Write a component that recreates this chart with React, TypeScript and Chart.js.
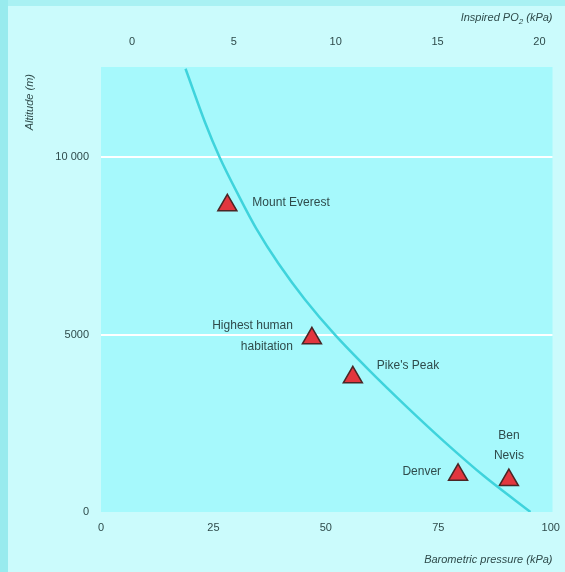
import React, { useEffect, useRef } from "react";
import { Chart, registerables } from "chart.js";

Chart.register(...registerables);

// Curve: barometric pressure (kPa) read at each altitude (m)
const curveAltitude = [0, 1000, 2000, 3000, 4000, 5000, 6000, 7000, 8000, 9000, 10000, 11000, 12500];
const curvePressure = [95.5, 85.3, 76.2, 67.7, 59.6, 52.0, 45.3, 39.5, 34.5, 30.3, 26.4, 23.1, 18.8];

// Sites
const siteNames = ["Mount Everest", "Highest human habitation", "Pike's Peak", "Denver", "Ben Nevis"];
const sitePressure = [28.1, 46.9, 56.0, 79.4, 90.7];
const siteAltitude = [8650, 4900, 3800, 1050, 900];

// Tick labels
const pressureTicks = [0, 25, 50, 75, 100];
const inspiredTicks = [0, 5, 10, 15, 20];
const altitudeTicks = [0, 5000, 10000];

// Label layout (offsets relative to each marker, in px)
const siteLabelLayout = [
  { lines: ["Mount Everest"], align: "left", dx: 25, dy: [-3] },
  { lines: ["Highest human", "habitation"], align: "right", dx: -19, dy: [-13, 8] },
  { lines: ["Pike's Peak"], align: "left", dx: 24, dy: [-12] },
  { lines: ["Denver"], align: "right", dx: -17, dy: [-3] },
  { lines: ["Ben", "Nevis"], align: "center", dx: 0, dy: [-44, -24] },
];

const FONT = "'Liberation Sans', Arial, sans-serif";
const TEXT = "#2f4b4b";

function formatAlt(v: number) {
  if (v >= 10000) return String(v).replace(/(\d)(?=(\d{3})+$)/g, "$1 ");
  return String(v);
}

export default function App() {
  const ref = useRef<HTMLCanvasElement>(null);
  useEffect(() => {
    if (!ref.current) return;
    const bgPlugin = {
      id: "bg",
      beforeDraw(chart: any) {
        const { ctx, chartArea: a, width, height } = chart;
        ctx.save();
        ctx.fillStyle = "#cbfbfc";
        ctx.fillRect(0, 0, width, height);
        ctx.fillStyle = "#98ebee";
        ctx.fillRect(0, 0, 8, height);
        ctx.fillStyle = "#a9f1f3";
        ctx.fillRect(8, 0, width - 8, 6);
        ctx.fillStyle = "#a6f9fc";
        ctx.fillRect(a.left, a.top, a.right - a.left, a.bottom - a.top);
        ctx.restore();
      },
    };
    const textPlugin = {
      id: "texts",
      afterDraw(chart: any) {
        const { ctx, chartArea: a } = chart;
        const xs = chart.scales.x;
        const ys = chart.scales.y;
        ctx.save();
        ctx.fillStyle = TEXT;
        ctx.textBaseline = "middle";
        ctx.font = `12px ${FONT}`;
        siteNames.forEach((_, i) => {
          const px = xs.getPixelForValue(sitePressure[i]);
          const py = ys.getPixelForValue(siteAltitude[i]);
          const L = siteLabelLayout[i];
          ctx.textAlign = L.align;
          L.lines.forEach((line, j) => ctx.fillText(line, px + L.dx, py + L.dy[j]));
        });
        // Axis titles
        ctx.font = `italic 11px ${FONT}`;
        ctx.textAlign = "right";
        ctx.fillText("Barometric pressure (kPa)", a.right, 560);
        // Top title with subscript
        const right = a.right;
        const y0 = 18;
        const p1 = "Inspired PO";
        const sub = "2";
        const p2 = " (kPa)";
        ctx.font = `italic 11px ${FONT}`;
        const w1 = ctx.measureText(p1).width;
        const w3 = ctx.measureText(p2).width;
        ctx.font = `italic 8px ${FONT}`;
        const w2 = ctx.measureText(sub).width;
        let x = right - (w1 + w2 + w3);
        ctx.textAlign = "left";
        ctx.font = `italic 11px ${FONT}`;
        ctx.fillText(p1, x, y0);
        x += w1;
        ctx.font = `italic 8px ${FONT}`;
        ctx.fillText(sub, x, y0 + 4);
        x += w2;
        ctx.font = `italic 11px ${FONT}`;
        ctx.fillText(p2, x, y0);
        // Y title
        ctx.save();
        ctx.translate(30, 74);
        ctx.rotate(-Math.PI / 2);
        ctx.textAlign = "right";
        ctx.fillText("Altitude (m)", 0, 0);
        ctx.restore();
        ctx.restore();
      },
    };
    const tickFont = { family: FONT, size: 11 };
    const chart = new Chart(ref.current, {
      type: "scatter",
      data: {
        datasets: [
          {
            label: "curve",
            data: curveAltitude.map((h, i) => ({ x: curvePressure[i], y: h })),
            showLine: true,
            borderColor: "#3fd3dc",
            borderWidth: 2.5,
            pointRadius: 0,
            tension: 0.3,
            xAxisID: "x",
            yAxisID: "y",
          },
          {
            label: "sites",
            data: sitePressure.map((p, i) => ({ x: p, y: siteAltitude[i] })),
            pointStyle: "triangle",
            pointRadius: 11,
            backgroundColor: "#e2363e",
            borderColor: "#4a2626",
            borderWidth: 1.5,
            xAxisID: "x",
            yAxisID: "y",
          },
        ],
      },
      options: {
        animation: false,
        responsive: false,
        layout: { padding: { left: 0, right: 12, top: 0, bottom: 0 } },
        plugins: { legend: { display: false }, tooltip: { enabled: false } },
        scales: {
          x: {
            type: "linear",
            position: "bottom",
            min: 0,
            max: 100.4,
            afterBuildTicks: (s: any) => { s.ticks = pressureTicks.map((v) => ({ value: v })); },
            afterFit: (s: any) => { s.height = 60; },
            grid: { display: false },
            border: { display: false },
            ticks: { font: tickFont, color: TEXT, padding: 1, maxRotation: 0 },
          },
          x2: {
            type: "linear",
            position: "top",
            min: -1.52,
            max: 20.64,
            afterBuildTicks: (s: any) => { s.ticks = inspiredTicks.map((v) => ({ value: v })); },
            afterFit: (s: any) => { s.height = 67; },
            grid: { display: false },
            border: { display: false },
            ticks: { font: tickFont, color: TEXT, padding: 10, maxRotation: 0 },
          },
          y: {
            type: "linear",
            min: 0,
            max: 12550,
            afterBuildTicks: (s: any) => { s.ticks = altitudeTicks.map((v) => ({ value: v })); },
            afterFit: (s: any) => { s.width = 101; },
            grid: {
              color: (c: any) => (c.tick && c.tick.value === 0 ? "rgba(0,0,0,0)" : "#ffffff"),
              lineWidth: 2,
              drawTicks: false,
            },
            border: { display: false },
            ticks: { font: tickFont, color: TEXT, padding: 12, callback: (v: any) => formatAlt(Number(v)) },
          },
        },
      },
      plugins: [bgPlugin, textPlugin],
    } as any);
    return () => chart.destroy();
  }, []);
  return (
    <div style={{ position: "absolute", left: 0, top: 0, width: 565, height: 572 }}>
      <canvas ref={ref} width={565} height={572} style={{ display: "block" }} />
    </div>
  );
}
